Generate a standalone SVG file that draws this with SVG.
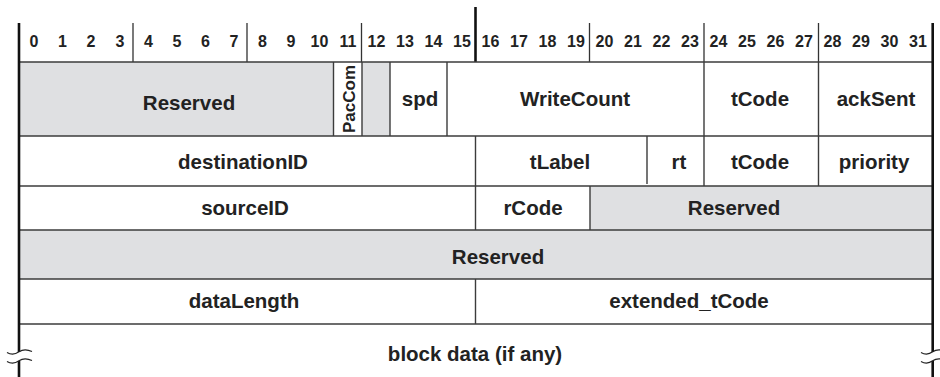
<svg xmlns="http://www.w3.org/2000/svg" width="940" height="377" viewBox="0 0 940 377">
<style>
.lbl{font-family:"Liberation Sans",Arial,Helvetica,sans-serif;font-weight:bold;font-size:20.5px;fill:#222;text-anchor:middle}
.num{font-family:"Liberation Sans",Arial,Helvetica,sans-serif;font-weight:bold;font-size:16px;fill:#222;text-anchor:middle}
.grey{fill:#dfe0e2}
.white{fill:#ffffff}
.ln{stroke:#3c3c3c;stroke-width:1.4;fill:none}
.tick{stroke:#333;stroke-width:1.3;fill:none}
.bold{stroke:#111;stroke-width:2.6;fill:none}
.brk{stroke:#222;stroke-width:1.2;fill:none}
</style>
<rect width="940" height="377" fill="#ffffff"/>

<g id="header">
<text class="num" y="47"><tspan x="34">0</tspan><tspan x="62.5">1</tspan><tspan x="91">2</tspan><tspan x="120">3</tspan><tspan x="148.5">4</tspan><tspan x="177">5</tspan><tspan x="205.5">6</tspan><tspan x="234">7</tspan><tspan x="262.5">8</tspan><tspan x="291">9</tspan><tspan x="319.5">10</tspan><tspan x="348">11</tspan><tspan x="376.5">12</tspan><tspan x="405">13</tspan><tspan x="433.5">14</tspan><tspan x="462">15</tspan><tspan x="490.5">16</tspan><tspan x="519">17</tspan><tspan x="547.5">18</tspan><tspan x="576">19</tspan><tspan x="604.5">20</tspan><tspan x="633">21</tspan><tspan x="661.5">22</tspan><tspan x="690">23</tspan><tspan x="718.5">24</tspan><tspan x="747">25</tspan><tspan x="775.5">26</tspan><tspan x="804">27</tspan><tspan x="832.5">28</tspan><tspan x="861">29</tspan><tspan x="889.5">30</tspan><tspan x="918">31</tspan></text>
</g>

<g id="reserved1">
<rect class="grey" x="19" y="62" width="371" height="74"/>
<text class="lbl" x="189" y="110">Reserved</text>
</g>
<g id="pacCom">
<rect class="white" x="333.5" y="62" width="28.5" height="74"/>
<text class="lbl" transform="translate(355,99) rotate(-90)" x="0" y="0" style="font-size:17px">PacCom</text>
</g>
<g id="spd"><text class="lbl" x="420" y="106">spd</text></g>
<g id="writeCount"><text class="lbl" x="575" y="106">WriteCount</text></g>
<g id="tCode1"><text class="lbl" x="760" y="106">tCode</text></g>
<g id="ackSent"><text class="lbl" x="876" y="106">ackSent</text></g>

<g id="destinationID"><text class="lbl" x="243" y="169">destinationID</text></g>
<g id="tLabel"><text class="lbl" x="560" y="169">tLabel</text></g>
<g id="rt"><text class="lbl" x="679" y="169">rt</text></g>
<g id="tCode2"><text class="lbl" x="760" y="169">tCode</text></g>
<g id="priority"><text class="lbl" x="874" y="169">priority</text></g>

<g id="sourceID"><text class="lbl" x="245" y="215">sourceID</text></g>
<g id="rCode"><text class="lbl" x="533" y="215">rCode</text></g>
<g id="reserved3">
<rect class="grey" x="590" y="186" width="342" height="44"/>
<text class="lbl" x="734" y="215">Reserved</text>
</g>

<g id="reserved4">
<rect class="grey" x="19" y="230" width="913" height="49"/>
<text class="lbl" x="498" y="264">Reserved</text>
</g>

<g id="dataLength"><text class="lbl" x="244" y="308">dataLength</text></g>
<g id="extended_tCode"><text class="lbl" x="689" y="308">extended_tCode</text></g>

<g id="blockData"><text class="lbl" x="475" y="361">block data (if any)</text></g>

<g id="connectors">
<path class="tick" d="M133,23V62M247,23V62M361.5,23V62M589.5,23V62M704,23V62M818.5,23V62"/>
<path class="bold" d="M475.5,7V62"/>
<path class="ln" d="M19,62H932M19,136H932M19,186H932M19,230H932M19,279H932M19,324H932"/>
<path class="ln" d="M333.5,62V136M362,62V136M390,62V136M447,62V136M704,62V136M818.5,62V136"/>
<path class="ln" d="M475.5,136V230M647,136V184M704,136V186M818.5,136V186M590,186V230M475.5,279V324"/>
<path class="bold" d="M19,23V352M19,361V377M932.7,23V352M932.7,361V377"/>
<path class="brk" d="M7,352.5Q13,356 19,351.8Q24.5,348 32,351.5M7,361.5Q13,365 19,360.8Q24.5,357 32,360.5"/>
<path class="brk" d="M921,352.5Q927,356 932.7,351.8Q938,348 946,351.5M921,361.5Q927,365 932.7,360.8Q938,357 946,360.5"/>
</g>
</svg>
